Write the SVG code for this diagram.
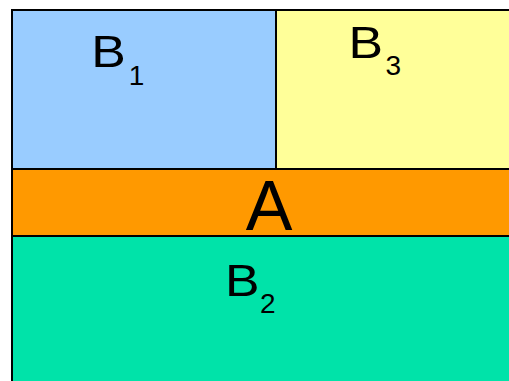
<svg xmlns="http://www.w3.org/2000/svg" width="509" height="381" viewBox="0 0 509 381">
<style>
rect{stroke:#000;stroke-width:2}
text{font-family:"Liberation Sans",Arial,sans-serif;fill:#000}
.m{font-size:45px}
.s{font-size:28px}
</style>
<rect width="509" height="381" fill="#fff" style="stroke:none"/>
<g id="B1"><rect x="12" y="10" width="264" height="159" fill="#99CCFF"/>
<text class="m" transform="translate(91.2,67.3) scale(1.15,1)">B</text>
<text class="s" x="128.7" y="84.7">1</text></g>
<g id="B3"><rect x="276" y="10" width="240" height="159" fill="#FFFF99"/>
<text class="m" transform="translate(348.5,58) scale(1.15,1)">B</text>
<text class="s" x="385.5" y="74.7">3</text></g>
<g id="A"><rect x="12" y="169" width="504" height="67" fill="#FF9900"/>
<text x="269" y="230" text-anchor="middle" style="font-size:70px">A</text></g>
<g id="B2"><rect x="12" y="236" width="504" height="150" fill="#00E3A9"/>
<text class="m" transform="translate(224.9,296) scale(1.15,1)">B</text>
<text class="s" x="260.1" y="312.7">2</text></g>
</svg>
